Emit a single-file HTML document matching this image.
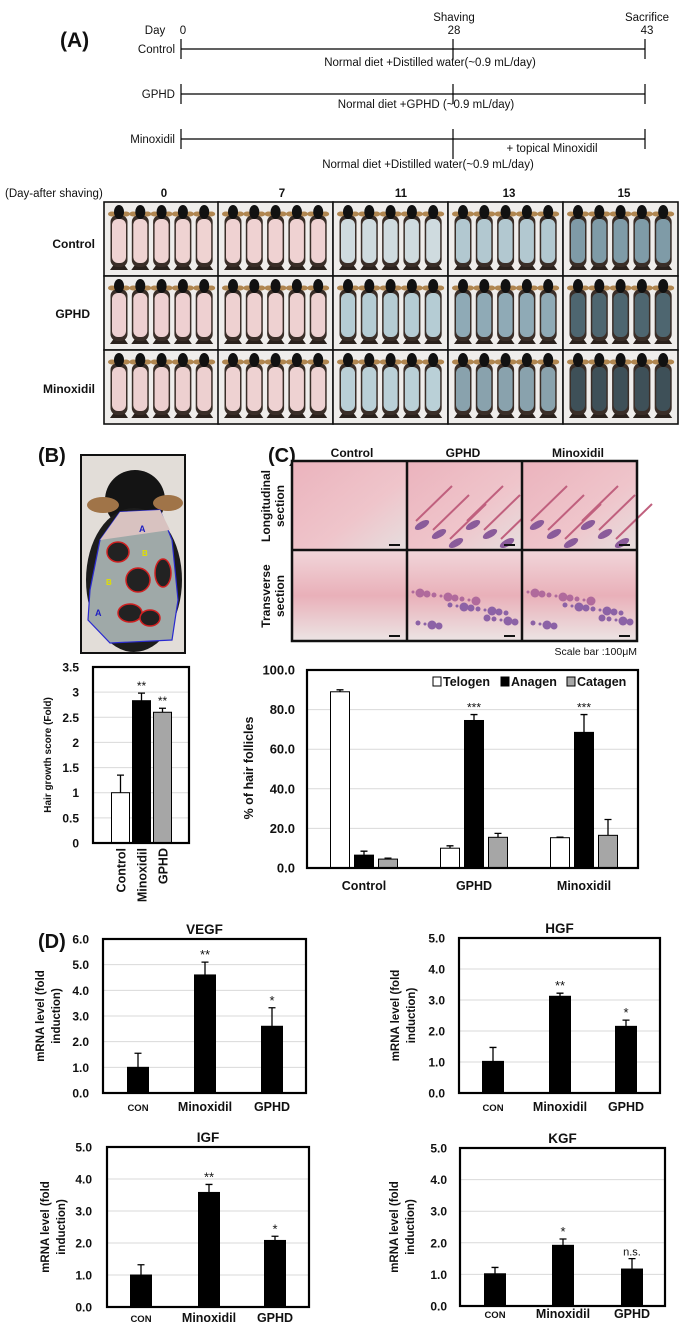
<!DOCTYPE html>
<html><head><meta charset="utf-8"><style>
html,body{margin:0;padding:0;background:#fff}
svg{display:block}
text{font-family:"Liberation Sans",sans-serif;fill:#111}
</style></head><body>
<svg id="fig" xmlns="http://www.w3.org/2000/svg" width="699" height="1334" viewBox="0 0 699 1334">
<defs>
<linearGradient id="pinkHist" x1="0" y1="0" x2="0" y2="1"><stop offset="0" stop-color="#f1d6da"/><stop offset="0.5" stop-color="#e9b0b9"/><stop offset="1" stop-color="#ece4e4"/></linearGradient>
<linearGradient id="pinkHist2" x1="0" y1="0" x2="1" y2="1"><stop offset="0" stop-color="#ebb3bd"/><stop offset="0.6" stop-color="#efc5cb"/><stop offset="1" stop-color="#e6dede"/></linearGradient>
</defs>

<!-- Panel A timeline -->
<g font-size="11.5">
<text x="60" y="47" font-size="21" font-weight="bold">(A)</text>
<text x="155" y="34" text-anchor="middle">Day</text>
<text x="183" y="34" text-anchor="middle">0</text>
<text x="454" y="21" text-anchor="middle">Shaving</text>
<text x="454" y="34" text-anchor="middle">28</text>
<text x="647" y="21" text-anchor="middle">Sacrifice</text>
<text x="647" y="34" text-anchor="middle">43</text>
<g stroke="#000" stroke-width="1.2">
<line x1="181" y1="49" x2="645" y2="49"/><line x1="181" y1="39" x2="181" y2="59"/><line x1="453" y1="39" x2="453" y2="59"/><line x1="645" y1="39" x2="645" y2="59"/>
<line x1="181" y1="94" x2="645" y2="94"/><line x1="181" y1="84" x2="181" y2="104"/><line x1="453" y1="84" x2="453" y2="104"/><line x1="645" y1="84" x2="645" y2="104"/>
<line x1="181" y1="139" x2="645" y2="139"/><line x1="181" y1="129" x2="181" y2="149"/><line x1="453" y1="129" x2="453" y2="159"/><line x1="645" y1="129" x2="645" y2="149"/>
</g>
<text x="175" y="53" text-anchor="end">Control</text>
<text x="430" y="66" text-anchor="middle">Normal diet +Distilled water(~0.9 mL/day)</text>
<text x="175" y="98" text-anchor="end">GPHD</text>
<text x="426" y="108" text-anchor="middle">Normal diet +GPHD (~0.9 mL/day)</text>
<text x="175" y="143" text-anchor="end">Minoxidil</text>
<text x="552" y="152" text-anchor="middle">+ topical Minoxidil</text>
<text x="428" y="168" text-anchor="middle">Normal diet +Distilled water(~0.9 mL/day)</text>
<text x="5" y="197">(Day-after shaving)</text>
<g font-weight="bold" text-anchor="middle">
<text x="164" y="197">0</text>
<text x="282" y="197">7</text>
<text x="401" y="197">11</text>
<text x="509" y="197">13</text>
<text x="624" y="197">15</text>
</g>
<g font-weight="bold" text-anchor="end" font-size="12">
<text x="95" y="248">Control</text>
<text x="90" y="318">GPHD</text>
<text x="95" y="393">Minoxidil</text>
</g>
</g>
<g id="photos"></g>

<!-- Panel B photo -->
<text x="38" y="462" font-size="20" font-weight="bold">(B)</text>
<g>
<rect x="81" y="455" width="104" height="198" fill="#e2ddd8" stroke="#111" stroke-width="2"/>
<ellipse cx="135" cy="500" rx="30" ry="30" fill="#141414"/>
<ellipse cx="103" cy="505" rx="16" ry="8" fill="#a07448"/>
<ellipse cx="168" cy="503" rx="15" ry="8" fill="#a07448"/>
<ellipse cx="134" cy="580" rx="48" ry="72" fill="#1c1c1c"/>
<path d="M120 512 L160 510 L172 540 L178 600 L172 640 L110 643 L88 620 L90 590 L100 540 Z" fill="#9fa9a8" stroke="#2a2ad0" stroke-width="1.2"/>
<path d="M120 512 L160 510 L170 530 L100 540 Z" fill="#d8c2c0"/>
<ellipse cx="118" cy="552" rx="11" ry="10" fill="#222" stroke="#d02020" stroke-width="1.5"/>
<ellipse cx="163" cy="573" rx="8" ry="14" fill="#222" stroke="#d02020" stroke-width="1.5"/>
<ellipse cx="138" cy="580" rx="12" ry="12" fill="#222" stroke="#d02020" stroke-width="1.5"/>
<ellipse cx="130" cy="613" rx="12" ry="9" fill="#222" stroke="#d02020" stroke-width="1.5"/>
<ellipse cx="150" cy="618" rx="10" ry="8" fill="#222" stroke="#d02020" stroke-width="1.5"/>
<text x="139" y="532" font-size="9" font-weight="bold" style="fill:#2020c0">A</text>
<text x="95" y="616" font-size="9" font-weight="bold" style="fill:#2020c0">A</text>
<text x="142" y="556" font-size="8" font-weight="bold" style="fill:#e0e000">B</text>
<text x="106" y="585" font-size="8" font-weight="bold" style="fill:#e0e000">B</text>
</g>

<!-- Panel C histology -->
<text x="268" y="462" font-size="20" font-weight="bold">(C)</text>
<g font-size="12" font-weight="bold" text-anchor="middle">
<text x="352" y="457">Control</text>
<text x="463" y="457">GPHD</text>
<text x="578" y="457">Minoxidil</text>
<text transform="translate(270,506) rotate(-90)">Longitudinal</text>
<text transform="translate(284,506) rotate(-90)">section</text>
<text transform="translate(270,596) rotate(-90)">Transverse</text>
<text transform="translate(284,596) rotate(-90)">section</text>
</g>
<g id="hist"></g>
<text x="637" y="655" font-size="10.5" text-anchor="end">Scale bar :100μM</text>

<text x="38" y="948" font-size="20" font-weight="bold">(D)</text>

<g id="chartB"></g>
<g id="chartC"></g>
<g id="chartVEGF"></g>
<g id="chartHGF"></g>
<g id="chartIGF"></g>
<g id="chartKGF"></g>
</svg>

<script>
// ---------- chart data ----------
const bCategories = ["Control", "Minoxidil", "GPHD"];
const bValues = [1.0, 2.83, 2.6];
const bErrors = [0.35, 0.15, 0.08];
const bStars = ["", "**", "**"];
const bTicks = ["0", "0.5", "1", "1.5", "2", "2.5", "3", "3.5"];

const cGroups = ["Control", "GPHD", "Minoxidil"];
const cSeries = ["Telogen", "Anagen", "Catagen"];
const cTelogen = [89, 10, 15.3];
const cAnagen = [6.5, 74.5, 68.5];
const cCatagen = [4.5, 15.5, 16.5];
const cTelogenErr = [1, 1.2, 0.3];
const cAnagenErr = [2, 3, 9];
const cCatagenErr = [0.5, 2, 8];
const cAnagenStars = ["", "***", "***"];
const cTicks = ["0.0", "20.0", "40.0", "60.0", "80.0", "100.0"];

const dCategories = ["CON", "Minoxidil", "GPHD"];
const vegfValues = [1.0, 4.6, 2.6];
const vegfErrors = [0.55, 0.5, 0.72];
const vegfStars = ["", "**", "*"];
const vegfTicks = ["0.0", "1.0", "2.0", "3.0", "4.0", "5.0", "6.0"];
const hgfValues = [1.02, 3.12, 2.15];
const hgfErrors = [0.45, 0.1, 0.2];
const hgfStars = ["", "**", "*"];
const igfValues = [1.0, 3.58, 2.08];
const igfErrors = [0.32, 0.25, 0.13];
const igfStars = ["", "**", "*"];
const kgfValues = [1.02, 1.92, 1.17];
const kgfErrors = [0.2, 0.2, 0.33];
const kgfStars = ["", "*", "n.s."];
const fiveTicks = ["0.0", "1.0", "2.0", "3.0", "4.0", "5.0"];

const NS = "http://www.w3.org/2000/svg";
function mk(parent, tag, attrs, txt) {
  const e = document.createElementNS(NS, tag);
  for (const k in attrs) e.setAttribute(k, attrs[k]);
  if (txt !== undefined) e.textContent = txt;
  parent.appendChild(e);
  return e;
}

function axisChart(g, box, yMax, ticks, tickX, tickSize) {
  const y = v => box.y1 - (v / yMax) * (box.y1 - box.y0);
  ticks.forEach((t, i) => {
    const v = yMax * i / (ticks.length - 1);
    const gl = mk(g, "line", {x1: box.x0, x2: box.x1, y1: y(v), y2: y(v), stroke: "#d9d9d9", "stroke-width": 1});
    
    
    const tl = mk(g, "text", {x: tickX, y: y(v) + 4.5, "text-anchor": "end", "font-size": tickSize, "font-weight": "bold"}, t);
    
    
  });
  return y;
}
function frame(g, box) {
  const f = mk(g, "rect", {x: box.x0, y: box.y0, width: box.x1 - box.x0, height: box.y1 - box.y0, fill: "none", stroke: "#000", "stroke-width": 2.2});
  
  
}
function bar(g, cx, w, val, err, y, fill, star, starSize) {
  const r = mk(g, "rect", {x: cx - w / 2, y: y(val), width: w, height: y(0) - y(val), fill: fill, stroke: "#000", "stroke-width": 1});
  
  
  const top = y(val + err);
  const el = mk(g, "path", {d: `M${cx} ${y(val)} V${top} M${cx - 3.5} ${top} H${cx + 3.5}`, stroke: "#000", "stroke-width": 1.3, fill: "none"});
  
  
  if (star) {
    const s = mk(g, "text", {x: cx, y: top - 3, "text-anchor": "middle", "font-size": starSize}, star);
    
    
  }
}

// ---------- Panel B chart ----------
(function () {
  const g = document.getElementById("chartB");
  const box = {x0: 93, x1: 189, y0: 667, y1: 843};
  const y = axisChart(g, box, 3.5, bTicks, 79, 12);
  const fills = ["#fff", "#000", "#a6a6a6"];
  const bw = 18, step = 21, start = 120.5;
  bCategories.forEach((c, i) => {
    const cx = start + i * step;
    bar(g, cx, bw, bValues[i], bErrors[i], y, fills[i], bStars[i], 12);
    const t = mk(g, "text", {transform: `translate(${cx + 5},848) rotate(-90)`, "text-anchor": "end", "font-size": 12.5, "font-weight": "bold"}, c);
    
    
  });
  frame(g, box);
  const yt = mk(g, "text", {transform: "translate(51,755) rotate(-90)", "text-anchor": "middle", "font-size": 10, "font-weight": "bold"}, "Hair growth score (Fold)");
  
  
})();

// ---------- Panel C chart ----------
(function () {
  const g = document.getElementById("chartC");
  const box = {x0: 307, x1: 638, y0: 670, y1: 868};
  const y = axisChart(g, box, 100, cTicks, 295, 13);
  const vals = [cTelogen, cAnagen, cCatagen];
  const errs = [cTelogenErr, cAnagenErr, cCatagenErr];
  const stars = [["", "", ""], cAnagenStars, ["", "", ""]];
  const fills = ["#fff", "#000", "#a6a6a6"];
  cGroups.forEach((gname, gi) => {
    const gc = 364 + gi * 110;
    cSeries.forEach((s, si) => {
      bar(g, gc + (si - 1) * 24, 19, vals[si][gi], errs[si][gi], y, fills[si], stars[si][gi], 12);
    });
    const t = mk(g, "text", {x: gc, y: 890, "text-anchor": "middle", "font-size": 12.5, "font-weight": "bold"}, gname);
    
    
  });
  frame(g, box);
  const lx = [433, 501, 567];
  cSeries.forEach((s, i) => {
    const sq = mk(g, "rect", {x: lx[i], y: 677, width: 8, height: 9, fill: fills[i], stroke: "#000", "stroke-width": 1});
    
    
    const lt = mk(g, "text", {x: lx[i] + 10, y: 686, "font-size": 12.5, "font-weight": "bold"}, s);
    
    
  });
  const yt = mk(g, "text", {transform: "translate(253,768) rotate(-90)", "text-anchor": "middle", "font-size": 12.5, "font-weight": "bold"}, "% of hair follicles");
  
  
})();

// ---------- Panel D charts ----------
function dChart(id, title, box, yMax, ticks, tickX, vals, errs, stars, centers, ytX, labY) {
  const g = document.getElementById(id);
  const y = axisChart(g, box, yMax, ticks, tickX, 12);
  dCategories.forEach((c, i) => {
    bar(g, centers[i], 21, vals[i], errs[i], y, "#000", stars[i], stars[i] === "n.s." ? 11 : 13);
    const t = mk(g, "text", {x: centers[i], y: labY, "text-anchor": "middle", "font-size": c === "CON" ? 9.5 : 12.5, "font-weight": "bold"}, c);
    
    
  });
  frame(g, box);
  const tt = mk(g, "text", {x: (box.x0 + box.x1) / 2, y: box.y0 - 5, "text-anchor": "middle", "font-size": 13.5, "font-weight": "bold"}, title);
  
  
  const cy = (box.y0 + box.y1) / 2;
  const y1 = mk(g, "text", {transform: `translate(${ytX},${cy}) rotate(-90)`, "text-anchor": "middle", "font-size": 11.5, "font-weight": "bold"}, "mRNA level (fold");
  
  
  const y2 = mk(g, "text", {transform: `translate(${ytX + 16},${cy}) rotate(-90)`, "text-anchor": "middle", "font-size": 11.5, "font-weight": "bold"}, "induction)");
  
  
}
dChart("chartVEGF", "VEGF", {x0: 103, x1: 306, y0: 939, y1: 1093}, 6, vegfTicks, 89, vegfValues, vegfErrors, vegfStars, [138, 205, 272], 44, 1111);
dChart("chartHGF", "HGF", {x0: 459, x1: 660, y0: 938, y1: 1093}, 5, fiveTicks, 445, hgfValues, hgfErrors, hgfStars, [493, 560, 626], 399, 1111);
dChart("chartIGF", "IGF", {x0: 107, x1: 309, y0: 1147, y1: 1307}, 5, fiveTicks, 92, igfValues, igfErrors, igfStars, [141, 209, 275], 49, 1322);
dChart("chartKGF", "KGF", {x0: 460, x1: 665, y0: 1148, y1: 1306}, 5, fiveTicks, 447, kgfValues, kgfErrors, kgfStars, [495, 563, 632], 398, 1318);

// ---------- decorative mouse photos ----------
(function () {
  const g = document.getElementById("photos");
  const cols = [104, 218, 333, 448, 563], rows = [202, 276, 350];
  const colors = [
    ["#efd3d2", "#efd2d2", "#cfdbdf", "#b2c8d0", "#7f9ba7"],
    ["#eed0d1", "#eed1d1", "#b5ccd4", "#8faab6", "#4e6670"],
    ["#edd0d0", "#eed2d2", "#bad0d7", "#89a2ad", "#3e5058"]
  ];
  rows.forEach((ry, r) => cols.forEach((cx0, c) => {
    const bg = mk(g, "rect", {x: cx0, y: ry, width: 115, height: 74, fill: "#efedeb", stroke: "#111", "stroke-width": 1.6});
    
    
    for (let i = 0; i < 5; i++) {
      const mx = cx0 + 15 + i * 21.3;
      mk(g, "path", {d: `M${mx - 9} ${ry + 68} L${mx - 4} ${ry + 61} L${mx + 4} ${ry + 61} L${mx + 9} ${ry + 68} Z`, fill: "#2a211c"});
      mk(g, "rect", {x: mx - 8.5, y: ry + 13, width: 17, height: 52, rx: 7, fill: "#3a2e28"});
      mk(g, "rect", {x: mx - 7, y: ry + 17, width: 14, height: 44, rx: 6, fill: colors[r][c]});
      mk(g, "ellipse", {cx: mx - 7, cy: ry + 12, rx: 4, ry: 2.5, fill: "#b08650"});
      mk(g, "ellipse", {cx: mx + 7, cy: ry + 12, rx: 4, ry: 2.5, fill: "#b08650"});
      mk(g, "ellipse", {cx: mx, cy: ry + 10, rx: 5, ry: 7, fill: "#111"});
    }
  }));
})();

// ---------- decorative histology ----------
(function () {
  const g = document.getElementById("hist");
  const cols = [292, 407, 522], rows = [461, 550], w = 115, h = [89, 91];
  rows.forEach((ry, r) => cols.forEach((cx0, c) => {
    const cell = mk(g, "rect", {x: cx0, y: ry, width: w, height: h[r], fill: r === 0 ? "url(#pinkHist2)" : "url(#pinkHist)"});
    
    
    if (c > 0) {
      if (r === 0) {
        for (let k = 0; k < 6; k++) {
          const ex = cx0 + 15 + k * 17, ey = ry + 60 + (k % 3) * 9;
          mk(g, "line", {x1: ex - 6, y1: ey, x2: ex + 30, y2: ey - 35, stroke: "#c0607e", "stroke-width": 2});
          mk(g, "ellipse", {cx: ex, cy: ey + 4, rx: 8, ry: 3.5, fill: "#8a5b9a", transform: `rotate(-30 ${ex} ${ey + 4})`});
        }
      } else {
        for (let k = 0; k < 28; k++) {
          const px = cx0 + 6 + (k * 37) % 104, py = ry + 42 + ((k * 13) % 38);
          mk(g, "circle", {cx: px, cy: py, r: 1.5 + (k % 4), fill: k % 3 ? "#8c62a6" : "#b06a9c"});
        }
      }
    }
    mk(g, "rect", {x: cx0 + w - 18, y: ry + h[r] - 6, width: 11, height: 2, fill: "#111"});
  }));
  const fr = mk(g, "path", {d: "M292 461 H637 V641 H292 Z M407 461 V641 M522 461 V641 M292 550 H637", fill: "none", stroke: "#111", "stroke-width": 2.5});
  
  
})();
</script>
</body></html>
